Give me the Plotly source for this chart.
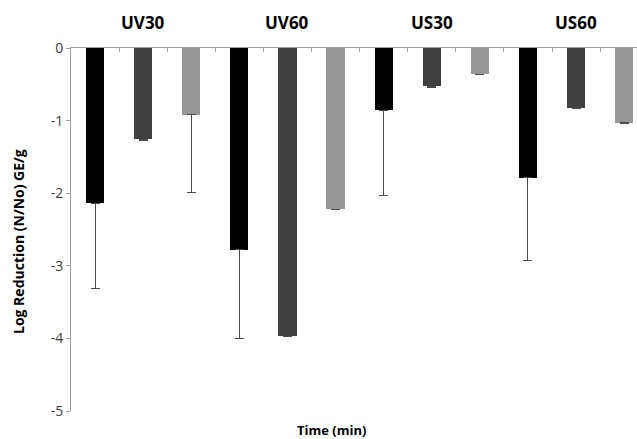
import plotly.graph_objects as go

groups = ["UV30", "UV60", "US30", "US60"]
black_vals = [-2.14, -2.78, -0.86, -1.79]
black_err = [1.17, 1.22, 1.17, 1.14]
dark_vals = [-1.26, -3.97, -0.53, -0.82]
dark_err = [0.01, 0.01, 0.01, 0.01]
light_vals = [-0.92, -2.22, -0.36, -1.03]
light_err = [1.07, 0.01, 0.01, 0.01]
y_ticks = [0, -1, -2, -3, -4, -5]

series = [
    (black_vals, black_err, "#000000", 0),
    (dark_vals, dark_err, "#404040", 1),
    (light_vals, light_err, "#969696", 2),
]

FONT = "Open Sans"
W, H = 637, 439
L, T, B, R = 71, 48, 28, 0

fig = go.Figure()
for vals, errs, color, j in series:
    xs = [3 * i + j for i in range(len(groups))]
    fig.add_trace(go.Bar(
        x=xs, y=vals, width=0.38,
        marker=dict(color=color, line=dict(width=0)),
        error_y=dict(type="data", symmetric=False, array=[0] * len(errs),
                     arrayminus=errs, color="#4a4a4a", thickness=1, width=4.5),
        showlegend=False, hoverinfo="skip",
    ))

n = 3 * len(groups)
plot_w = W - L - R
unit = 48.1
x_end = -0.5 + plot_w / unit

fig.update_layout(
    width=W, height=H,
    margin=dict(l=L, r=R, t=T, b=B),
    paper_bgcolor="white", plot_bgcolor="white",
    font=dict(family=FONT, color="#404040"),
    xaxis=dict(
        range=[-0.5, x_end], side="top", showline=True, linecolor="#a0a0a0",
        linewidth=1, ticks="inside", ticklen=4, tickcolor="#a0a0a0",
        tickvals=[k + 0.5 for k in range(n - 1)], showticklabels=False,
        showgrid=False, zeroline=False,
    ),
    yaxis=dict(
        range=[-5, 0], showline=True, linecolor="#a0a0a0", linewidth=1,
        ticks="outside", ticklen=4, tickcolor="#a0a0a0",
        tickvals=y_ticks, ticktext=[str(v) for v in y_ticks],
        tickfont=dict(size=14, color="#404040", family=FONT),
        showgrid=False, zeroline=False,
    ),
    bargap=0,
)

for i, g in enumerate(groups):
    fig.add_annotation(x=3 * i + 1, y=1.071, xref="x", yref="paper",
                       text="<b>%s</b>" % g, showarrow=False, yanchor="middle",
                       font=dict(size=17, color="#000000", family=FONT))

fig.add_annotation(x=(331 - L) / plot_w, y=-0.052, xref="paper", yref="paper",
                   text="<b>Time (min)</b>", showarrow=False, yanchor="middle",
                   font=dict(size=13, color="#000000", family=FONT))
fig.add_annotation(x=(18 - L) / plot_w, y=(411 - 242) / 363.0, xref="paper", yref="paper",
                   text="<b>Log Reduction (N/No) GE/g</b>", textangle=-90,
                   showarrow=False, xanchor="center", yanchor="middle",
                   font=dict(size=14, color="#000000", family=FONT))

fig.write_html("out.html", config={"displayModeBar": False},
               post_script="document.body.style.margin='0';document.body.style.overflow='hidden';")
